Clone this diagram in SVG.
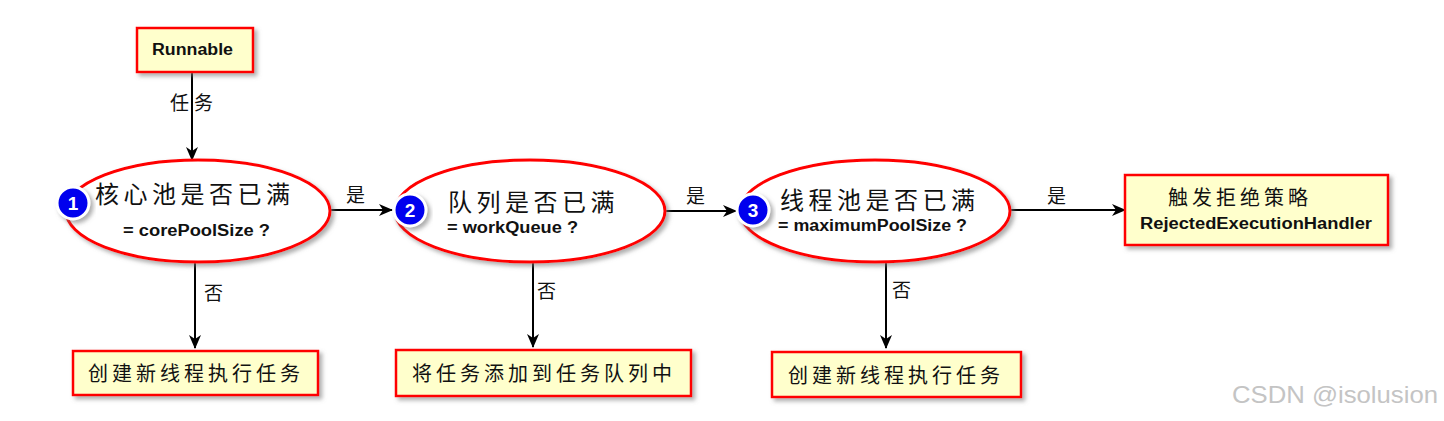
<svg xmlns="http://www.w3.org/2000/svg" width="1444" height="421" viewBox="0 0 1444 421">
<defs>
  <filter id="sh" x="-10%" y="-20%" width="130%" height="150%">
    <feDropShadow dx="3" dy="3" stdDeviation="2" flood-color="#777" flood-opacity="0.6"/>
  </filter>
  <marker id="ah" viewBox="0 0 14 12" refX="13" refY="6" markerWidth="14" markerHeight="12" markerUnits="userSpaceOnUse" orient="auto">
    <path d="M0,0 L14,6 L0,12 L4,6 Z" fill="#000"/>
  </marker>
  <style>
    .box { fill: #FFFFCC; stroke: #FF0000; stroke-width: 2.5; filter: url(#sh); }
    .ell { fill: #FFFFFF; stroke: #FF0000; stroke-width: 3; filter: url(#sh); }
    .num { fill: #0000EE; stroke: #FFFFFF; stroke-width: 3; filter: url(#sh); }
    .numt { font-family: "Liberation Sans", Arial, sans-serif; font-weight: bold; font-size: 19px; fill: #FFFFFF; text-anchor: middle; }
    .cn { font-family: "Noto Sans CJK SC", sans-serif; fill: #111; }
    .big { font-size: 24px; letter-spacing: 4.5px; }
    .mid { font-size: 20px; letter-spacing: 4px; }
    .lbl { font-family: "Noto Sans CJK SC", sans-serif; font-size: 19px; fill: #111; }
    .en { font-family: "Liberation Sans", Arial, sans-serif; font-weight: bold; font-size: 16px; fill: #111; }
    .con { stroke: #000; stroke-width: 2; fill: none; marker-end: url(#ah); }
  </style>
</defs>

<g id="connectors">
  <line class="con" x1="192" y1="72" x2="192" y2="160"/>
  <line class="con" x1="330" y1="210" x2="392" y2="210"/>
  <line class="con" x1="665" y1="211" x2="736" y2="211"/>
  <line class="con" x1="1010" y1="210" x2="1125" y2="210"/>
  <line class="con" x1="195" y1="259" x2="195" y2="348"/>
  <line class="con" x1="533" y1="259" x2="533" y2="347"/>
  <line class="con" x1="886" y1="259" x2="886" y2="348"/>
  <text class="lbl" x="170" y="110" letter-spacing="5">任务</text>
  <text class="lbl" x="346" y="202">是</text>
  <text class="lbl" x="686" y="203">是</text>
  <text class="lbl" x="1047" y="203">是</text>
  <text class="lbl" x="204" y="300">否</text>
  <text class="lbl" x="537" y="298">否</text>
  <text class="lbl" x="892" y="297">否</text>
</g>

<g id="runnable">
  <rect class="box" x="137" y="28" width="116" height="44"/>
  <text class="en" x="152" y="55" font-size="17" textLength="81" lengthAdjust="spacingAndGlyphs">Runnable</text>
</g>

<g id="decision1">
  <ellipse class="ell" cx="198" cy="211" rx="132" ry="51"/>
  <text class="cn big" x="95" y="203">核心池是否已满</text>
  <text class="en" x="123" y="236" textLength="147" lengthAdjust="spacingAndGlyphs">= corePoolSize ?</text>
  <circle class="num" cx="73" cy="203" r="16"/>
  <text class="numt" x="73" y="210">1</text>
</g>

<g id="decision2">
  <ellipse class="ell" cx="530" cy="211" rx="135" ry="51"/>
  <text class="cn big" x="448" y="211" letter-spacing="5">队列是否已满</text>
  <text class="en" x="447" y="233" textLength="131" lengthAdjust="spacingAndGlyphs">= workQueue ?</text>
  <circle class="num" cx="410" cy="210" r="16"/>
  <text class="numt" x="410" y="217">2</text>
</g>

<g id="decision3">
  <ellipse class="ell" cx="875" cy="211" rx="135" ry="51"/>
  <text class="cn big" x="780" y="209">线程池是否已满</text>
  <text class="en" x="778" y="231" textLength="189" lengthAdjust="spacingAndGlyphs">= maximumPoolSize ?</text>
  <circle class="num" cx="753" cy="210" r="16"/>
  <text class="numt" x="753" y="217">3</text>
</g>

<g id="reject">
  <rect class="box" x="1125" y="175" width="263" height="70"/>
  <text class="cn mid" x="1168" y="205">触发拒绝策略</text>
  <text class="en" x="1140" y="229" textLength="232" lengthAdjust="spacingAndGlyphs">RejectedExecutionHandler</text>
</g>

<g id="action1">
  <rect class="box" x="73" y="351" width="245" height="44"/>
  <text class="cn mid" x="88" y="381">创建新线程执行任务</text>
</g>

<g id="action2">
  <rect class="box" x="396" y="350" width="295" height="46"/>
  <text class="cn mid" x="412" y="381" letter-spacing="3.8">将任务添加到任务队列中</text>
</g>

<g id="action3">
  <rect class="box" x="772" y="352" width="249" height="45"/>
  <text class="cn mid" x="788" y="383">创建新线程执行任务</text>
</g>

<g id="watermark">
  <text x="1232" y="403" font-family="Liberation Sans, Arial, sans-serif" font-size="24" fill="#c4c4c4" textLength="206" lengthAdjust="spacingAndGlyphs">CSDN @isolusion</text>
</g>
</svg>
